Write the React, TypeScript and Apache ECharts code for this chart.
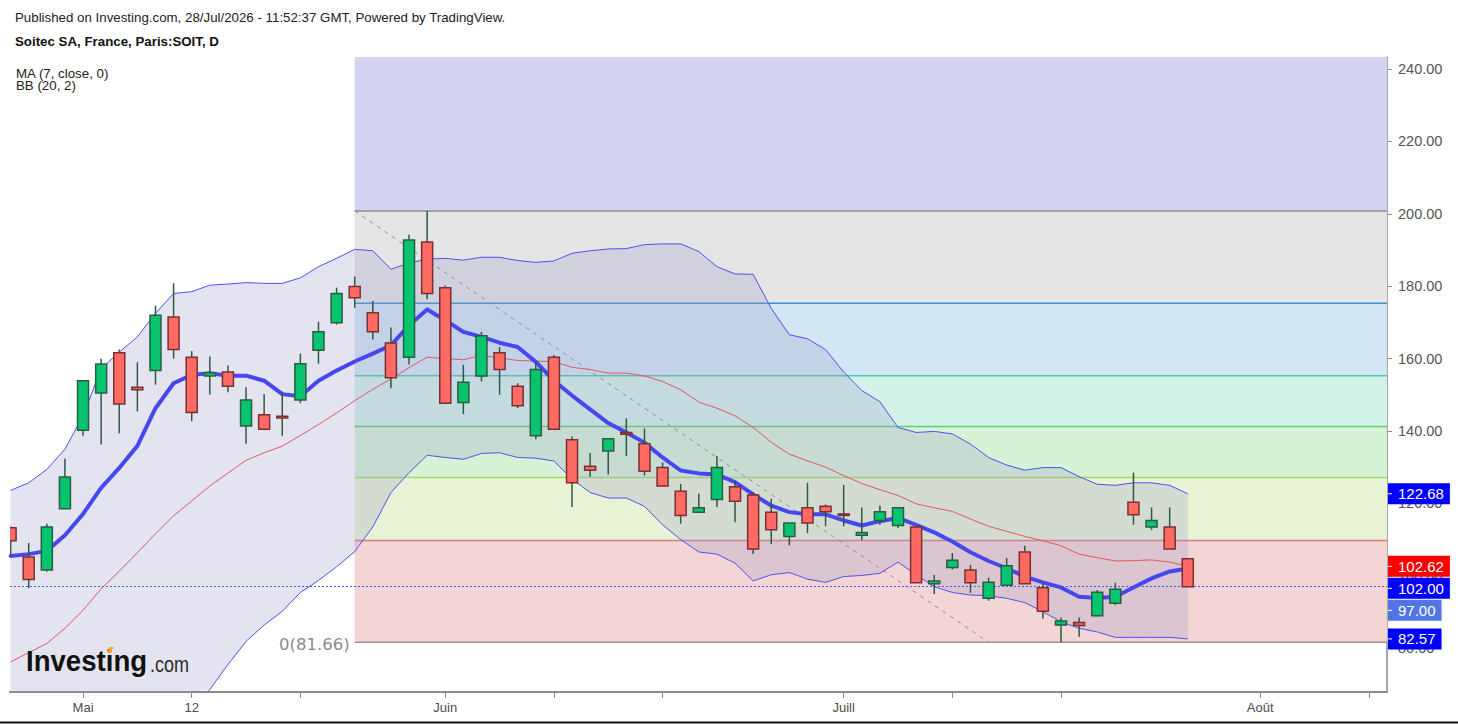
import React, { useEffect, useRef } from "react";
import * as echarts from "echarts";

// ---------------- data ----------------
const tradingDays = [
  "2026-04-27", "2026-04-28", "2026-04-29", "2026-04-30",
  "2026-05-04", "2026-05-05", "2026-05-06", "2026-05-07", "2026-05-08",
  "2026-05-11", "2026-05-12", "2026-05-13", "2026-05-14", "2026-05-15",
  "2026-05-18", "2026-05-19", "2026-05-20", "2026-05-21", "2026-05-22",
  "2026-05-25", "2026-05-26", "2026-05-27", "2026-05-28", "2026-05-29",
  "2026-06-01", "2026-06-02", "2026-06-03", "2026-06-04", "2026-06-05",
  "2026-06-08", "2026-06-09", "2026-06-10", "2026-06-11", "2026-06-12",
  "2026-06-15", "2026-06-16", "2026-06-17", "2026-06-18", "2026-06-19",
  "2026-06-22", "2026-06-23", "2026-06-24", "2026-06-25", "2026-06-26",
  "2026-06-29", "2026-06-30",
  "2026-07-01", "2026-07-02", "2026-07-03",
  "2026-07-06", "2026-07-07", "2026-07-08", "2026-07-09", "2026-07-10",
  "2026-07-13", "2026-07-14", "2026-07-15", "2026-07-16", "2026-07-17",
  "2026-07-20", "2026-07-21", "2026-07-22", "2026-07-23", "2026-07-24",
  "2026-07-27", "2026-07-28", "2026-07-29", "2026-07-30", "2026-07-31",
  "2026-08-03", "2026-08-04", "2026-08-05", "2026-08-06", "2026-08-07",
  "2026-08-10", "2026-08-11", "2026-08-12",
];

const candleOpen = [
  113.3, 105.2, 101.6, 118.5, 140.2, 150.5, 161.6, 152.1, 156.7, 171.5,
  160.4, 155.2, 156.3, 141.4, 144.5, 144.1, 148.6, 162.3, 169.9, 179.9,
  172.7, 164.3, 160.4, 192.2, 179.6, 147.9, 155.2, 161.6, 152.4, 138.7,
  160.4, 137.6, 130.3, 134.5, 139.6, 136.5, 129.9, 123.4, 117.6, 121.1,
  124.6, 122.3, 117.6, 110.9, 118.8, 119.2, 117.1, 111.2, 115.3, 113.9,
  113.5, 97.8, 102.3, 101.6, 93.8, 97.4, 106.6, 96.7, 86.4, 87.1,
  89.0, 92.4, 120.3, 113.5, 113.5, 104.7,
];
const candleHigh = [
  113.6, 109.1, 114.4, 132.4, 154.1, 160.0, 162.5, 159.0, 174.6, 180.8,
  162.1, 160.6, 158.1, 152.1, 150.2, 150.9, 161.4, 170.2, 179.6, 182.7,
  175.9, 168.6, 194.2, 200.8, 180.2, 158.3, 167.4, 163.2, 153.2, 159.2,
  161.0, 138.5, 133.9, 137.9, 143.5, 140.7, 131.3, 125.4, 122.7, 133.1,
  126.2, 123.1, 121.3, 114.6, 125.7, 119.7, 125.1, 118.9, 119.4, 119.0,
  113.5, 100.2, 106.3, 103.0, 99.5, 104.9, 108.3, 98.1, 88.5, 88.5,
  96.1, 98.1, 128.5, 118.9, 118.9, 105.0,
];
const candleLow = [
  105.3, 96.6, 101.1, 118.5, 138.7, 136.3, 139.4, 145.4, 152.8, 160.0,
  142.7, 150.0, 150.7, 136.5, 140.2, 138.7, 147.7, 158.6, 169.4, 174.0,
  165.3, 151.8, 158.4, 176.4, 147.7, 144.7, 153.7, 150.0, 146.3, 137.7,
  140.5, 119.0, 127.4, 128.0, 133.1, 127.7, 124.8, 114.4, 117.6, 119.0,
  114.8, 106.0, 108.8, 108.4, 111.8, 113.7, 113.7, 110.0, 114.1, 113.2,
  98.1, 95.0, 101.8, 95.3, 93.1, 97.4, 97.8, 88.2, 81.66, 83.2,
  88.8, 91.9, 114.1, 112.7, 107.4, 97.0,
];
const candleClose = [
  109.7, 99.0, 113.5, 127.3, 153.9, 158.5, 147.5, 151.4, 172.0, 162.5,
  145.1, 156.1, 152.4, 148.6, 140.5, 143.6, 158.6, 167.4, 178.0, 176.8,
  167.4, 154.7, 192.8, 178.0, 147.7, 153.5, 166.3, 157.0, 147.0, 157.0,
  140.5, 125.7, 129.2, 137.9, 139.1, 128.9, 124.8, 116.7, 118.8, 129.9,
  120.6, 107.4, 112.7, 114.6, 114.6, 117.7, 116.7, 112.0, 117.7, 118.8,
  98.1, 98.6, 104.3, 98.1, 98.2, 102.8, 97.8, 90.2, 87.5, 86.3,
  95.5, 96.3, 116.9, 115.3, 107.4, 97.0,
];

const ma7 = [
  105.5, 106.0, 106.9, 111.2, 117.1, 124.3, 129.8, 135.9, 146.3, 153.2,
  155.5, 156.0, 155.3, 155.3, 153.9, 150.2, 149.6, 153.9, 156.7, 159.2,
  161.4, 163.7, 169.2, 173.6, 170.6, 167.4, 166.0, 164.4, 163.2, 159.1,
  153.9, 149.8, 146.0, 142.2, 139.6, 136.8, 132.7, 129.1, 128.3, 128.0,
  125.9, 122.5, 119.4, 117.6, 117.0, 117.0, 115.3, 113.9, 115.1, 116.0,
  114.1, 112.0, 109.5, 106.5, 104.1, 102.1, 99.8, 98.2, 96.8, 94.2,
  93.9, 94.2, 96.8, 99.3, 101.2, 102.0,
];
const bbUpper = [
  123.6, 125.7, 129.4, 135.0, 144.2, 157.2, 161.8, 166.0, 172.5, 178.0,
  178.5, 180.3, 180.6, 181.0, 180.8, 180.8, 182.3, 185.4, 187.7, 190.2,
  189.8, 184.7, 186.4, 187.5, 187.7, 187.2, 188.0, 188.0, 187.1, 186.6,
  187.0, 189.1, 189.8, 190.3, 190.4, 191.5, 191.7, 191.7, 189.6, 185.4,
  183.4, 183.3, 173.9, 166.6, 165.5, 162.5, 156.3, 151.2, 148.1, 141.0,
  139.6, 139.9, 139.2, 136.4, 132.7, 130.6, 129.2, 129.9, 129.9, 127.4,
  125.3, 125.0, 125.7, 125.7, 125.0, 122.68,
];
const bbMiddle = [
  76.2, 78.8, 81.3, 85.5, 90.5, 96.4, 101.3, 106.4, 111.6, 116.6,
  120.7, 124.8, 128.4, 131.9, 134.0, 135.8, 138.8, 141.8, 145.0, 148.4,
  151.5, 154.4, 157.5, 160.4, 160.0, 159.7, 160.9, 160.2, 159.5, 159.3,
  159.2, 157.6, 157.0, 156.0, 156.0, 155.2, 153.7, 151.4, 148.0, 146.3,
  144.2, 141.0, 136.9, 133.6, 131.8, 130.0, 127.7, 125.5, 123.8, 122.2,
  119.9, 118.8, 117.8, 115.7, 113.7, 112.3, 110.9, 109.7, 108.3, 106.0,
  105.0, 104.1, 104.2, 104.4, 103.8, 102.62,
];
const bbLower = [
  28.8, 31.9, 33.2, 36.0, 36.8, 35.6, 40.8, 46.8, 50.7, 55.2,
  62.9, 68.6, 75.5, 81.9, 86.4, 90.2, 95.4, 98.7, 102.5, 106.7,
  113.5, 123.0, 128.5, 133.3, 132.7, 132.2, 133.8, 134.0, 132.7, 132.5,
  131.7, 126.8, 123.0, 121.5, 121.5, 119.2, 114.1, 110.0, 106.6, 106.0,
  103.5, 98.6, 100.3, 100.9, 99.1, 98.2, 99.8, 100.1, 100.7, 103.8,
  100.3, 97.0, 95.4, 94.7, 94.5, 93.8, 92.6, 90.1, 87.3, 85.5,
  84.5, 83.0, 83.0, 83.0, 83.0, 82.57,
];

const xTickDays = [
  "2026-05-04", "2026-05-12", "2026-05-20", "2026-06-01", "2026-06-09", "2026-06-17",
  "2026-07-01", "2026-07-09", "2026-07-17", "2026-08-03", "2026-08-11",
];
const xTickLabels = ["Mai", "12", "", "Juin", "", "", "Juill", "", "", "Août", ""];
const yTickValues = [80, 100, 120, 140, 160, 180, 200, 220, 240];

const fibRatios = [0, 0.236, 0.382, 0.5, 0.618, 0.786, 1, 1.618];
const fibLowPrice = 81.66;
const fibHighPrice = 200.8;
const fibStartDay = "2026-05-25";
const fibEndDay = "2026-07-13";

const headerPublished = "Published on Investing.com, 28/Jul/2026 - 11:52:37 GMT, Powered by TradingView.";
const headerSymbol = "Soitec SA, France, Paris:SOIT, D";
const legendMA = "MA (7, close, 0)";
const legendBB = "BB (20, 2)";

// ---------------- styles ----------------
const FONT = '"Liberation Sans", Arial, Helvetica, sans-serif';
const xMin = -0.033;
const xMax = 76.0;
const yMin = 67.91;
const yMax = 243.33;
const fibFill = ["#f3d5d5", "#e9f4d6", "#d6f3d6", "#d3f3ea", "#d3e6f4", "#e5e5e5", "#d4d4f2"];
const fibLine = ["#a89090", "#e07a7a", "#a6d56e", "#62cf72", "#4fc7ad", "#3b93d0", "#8c8c8c", "#7c7cd8"];
const upFill = "#07c46f";
const upBorder = "#2b5d43";
const downFill = "#ff6a62";
const downBorder = "#7a3030";
const wickColor = "#2d5a44";
const maColor = "#4747f0";
const bbBandColor = "#5050f2";
const bbMidColor = "#e0585e";
const bbFillColor = "rgba(155,155,199,0.27)";

export default function App() {
  const ref = useRef<HTMLDivElement>(null);

  useEffect(() => {
    const el = ref.current as HTMLDivElement;
    const chart = echarts.init(el, null, { renderer: "svg" });

    const n = candleOpen.length;
    const idx = candleOpen.map((_, i) => i);
    const fibLevels = fibRatios.map((r) => fibLowPrice + r * (fibHighPrice - fibLowPrice));
    const fibStartIdx = tradingDays.indexOf(fibStartDay);
    const fibEndIdx = tradingDays.indexOf(fibEndDay);
    const xTickIdx = xTickDays.map((d) => tradingDays.indexOf(d));
    const xLabelIdx = xTickIdx.filter((_, i) => xTickLabels[i] !== "");

    const option: any = {
      animation: false,
      backgroundColor: "#ffffff",
      grid: { left: 10, right: 71, top: 57, bottom: 32, containLabel: false },
      xAxis: {
        type: "value",
        min: xMin,
        max: xMax,
        axisLine: { show: true, onZero: false, lineStyle: { color: "#8a8a8a", width: 2 } },
        axisTick: { show: true, customValues: xTickIdx, length: 6, lineStyle: { color: "#8a8a8a", width: 1 } },
        axisLabel: {
          customValues: xLabelIdx,
          formatter: (v: number) => {
            const k = xTickIdx.indexOf(Math.round(v));
            return k >= 0 ? xTickLabels[k] : "";
          },
          color: "#4d4d4d",
          fontSize: 13,
          fontFamily: FONT,
          margin: 9,
        },
        splitLine: { show: false },
      },
      yAxis: {
        type: "value",
        position: "right",
        min: yMin,
        max: yMax,
        axisLine: { show: true, onZero: false, lineStyle: { color: "#8a8a8a", width: 1.5 } },
        axisTick: { show: true, customValues: yTickValues, length: 5, lineStyle: { color: "#8a8a8a" } },
        axisLabel: {
          customValues: yTickValues,
          formatter: (v: number) => v.toFixed(2),
          color: "#555555",
          fontSize: 14.5,
          fontFamily: FONT,
          margin: 11,
        },
        splitLine: { show: false },
      },
      series: [
        {
          type: "custom",
          name: "fib",
          z: 1,
          silent: true,
          clip: true,
          data: fibLevels.map((lv) => [fibStartIdx, lv]),
          encode: { x: 0, y: 1 },
          renderItem: (params: any, api: any) => {
            const i = params.dataIndex;
            const cs = params.coordSys;
            const top = cs.y;
            const bottom = cs.y + cs.height;
            const right = cs.x + cs.width;
            const clampY = (y: number) => Math.max(top, Math.min(bottom, y));
            const p0 = api.coord([fibStartIdx, fibLevels[i]]);
            const children: any[] = [];
            if (i < fibLevels.length - 1) {
              const p1 = api.coord([fibStartIdx, fibLevels[i + 1]]);
              const y0 = clampY(p0[1]);
              const y1 = clampY(p1[1]);
              if (y0 - y1 > 0) {
                children.push({
                  type: "rect",
                  shape: { x: p0[0], y: y1, width: right - p0[0], height: y0 - y1 },
                  style: { fill: fibFill[i] },
                });
              }
            }
            if (p0[1] >= top && p0[1] <= bottom) {
              children.push({
                type: "line",
                shape: { x1: p0[0], y1: p0[1], x2: right, y2: p0[1] },
                style: { stroke: fibLine[i], lineWidth: 1.5 },
              });
            }
            if (i === 0) {
              children.push({
                type: "text",
                x: p0[0] - 5,
                y: p0[1] + 2,
                style: {
                  text: `${fibRatios[0]}(${fibLowPrice.toFixed(2)})`,
                  fill: "#8c8c8c",
                  font: '16.5px "DejaVu Sans", sans-serif',
                  align: "right",
                  verticalAlign: "middle",
                },
              });
            }
            return { type: "group", children };
          },
        },
        {
          type: "custom",
          name: "bbFill",
          z: 2,
          silent: true,
          clip: true,
          data: [[0, bbUpper[0]]],
          encode: { x: 0, y: 1 },
          renderItem: (params: any, api: any) => {
            const cs = params.coordSys;
            const pts: number[][] = [];
            for (let i = 0; i < n; i++) pts.push(api.coord([idx[i], bbUpper[i]]));
            for (let i = n - 1; i >= 0; i--) pts.push(api.coord([idx[i], bbLower[i]]));
            const clipped = pts.map((p) => [p[0], Math.max(cs.y, Math.min(cs.y + cs.height, p[1]))]);
            return { type: "polygon", shape: { points: clipped }, style: { fill: bbFillColor } };
          },
        },
        {
          type: "line",
          name: "BB upper",
          z: 3,
          silent: true,
          symbol: "none",
          data: idx.map((i) => [i, bbUpper[i]]),
          lineStyle: { color: bbBandColor, width: 1 },
        },
        {
          type: "line",
          name: "BB lower",
          z: 3,
          silent: true,
          symbol: "none",
          data: idx.map((i) => [i, bbLower[i]]),
          lineStyle: { color: bbBandColor, width: 1 },
        },
        {
          type: "line",
          name: "BB middle",
          z: 3,
          silent: true,
          symbol: "none",
          data: idx.map((i) => [i, bbMiddle[i]]),
          lineStyle: { color: bbMidColor, width: 1 },
        },
        {
          type: "line",
          name: "fib trend",
          z: 3,
          silent: true,
          symbol: "none",
          data: [
            [fibStartIdx, fibHighPrice],
            [fibEndIdx, fibLowPrice],
          ],
          lineStyle: { color: "#8e8e8e", width: 1, type: [4, 5] },
        },
        {
          type: "line",
          name: "MA 7",
          z: 4,
          silent: true,
          symbol: "none",
          data: idx.map((i) => [i, ma7[i]]),
          lineStyle: { color: maColor, width: 4, cap: "round", join: "round" },
          markLine: {
            silent: true,
            symbol: ["none", "none"],
            label: { show: false },
            lineStyle: { color: "#3d5ce6", width: 1, type: [2, 2] },
            data: [{ yAxis: candleClose[n - 1] }],
          },
        },
        {
          type: "custom",
          name: "Soitec",
          z: 5,
          silent: true,
          clip: true,
          data: idx.map((i) => [i, candleOpen[i], candleClose[i], candleLow[i], candleHigh[i]]),
          encode: { x: 0, y: [1, 2, 3, 4] },
          renderItem: (params: any, api: any) => {
            const x = api.value(0);
            const o = api.value(1);
            const c = api.value(2);
            const l = api.value(3);
            const h = api.value(4);
            const pO = api.coord([x, o]);
            const pC = api.coord([x, c]);
            const pL = api.coord([x, l]);
            const pH = api.coord([x, h]);
            const cx = pO[0];
            const up = c >= o;
            const top = Math.min(pO[1], pC[1]);
            const bot = Math.max(pO[1], pC[1]);
            const w = 11;
            return {
              type: "group",
              children: [
                {
                  type: "line",
                  shape: { x1: cx, y1: pH[1], x2: cx, y2: pL[1] },
                  style: { stroke: wickColor, lineWidth: 1.5 },
                },
                {
                  type: "rect",
                  shape: { x: cx - w / 2, y: top, width: w, height: Math.max(bot - top, 1.5) },
                  style: {
                    fill: up ? upFill : downFill,
                    stroke: up ? upBorder : downBorder,
                    lineWidth: 1.5,
                  },
                },
              ],
            };
          },
        },
      ],
    };

    chart.setOption(option);

    // price markers on the right scale, stacked so they do not overlap
    const markers = [
      { value: bbUpper[n - 1], color: "#0000ff" },
      { value: bbMiddle[n - 1], color: "#ff0000" },
      { value: ma7[n - 1], color: "#0000ff" },
      { value: candleClose[n - 1], color: "#5175e4" },
      { value: bbLower[n - 1], color: "#0000ff" },
    ].map((m) => ({ ...m, y: chart.convertToPixel({ yAxisIndex: 0 }, m.value) as number }));
    markers.sort((a, b) => a.y - b.y);
    for (let i = 1; i < markers.length; i++) {
      if (markers[i].y < markers[i - 1].y + 22) markers[i].y = markers[i - 1].y + 22;
    }
    const axisX = 1458 - 71;
    const markerGraphics: any[] = [];
    markers.forEach((m) => {
      markerGraphics.push({
        type: "text",
        x: axisX + 1,
        y: m.y,
        z: 100,
        style: {
          text: m.value.toFixed(2),
          fill: "#ffffff",
          font: `15px ${FONT}`,
          backgroundColor: m.color,
          padding: [3, 6, 3, 10],
          align: "left",
          verticalAlign: "middle",
        },
      });
      markerGraphics.push({
        type: "line",
        z: 101,
        shape: { x1: axisX + 1, y1: m.y, x2: axisX + 5, y2: m.y },
        style: { stroke: "#ffffff", lineWidth: 1 },
      });
    });

    const staticGraphics: any[] = [
      {
        type: "text",
        x: 15,
        y: 17,
        style: { text: headerPublished, font: `13.3px ${FONT}`, fill: "#222222", verticalAlign: "middle" },
      },
      {
        type: "text",
        x: 15,
        y: 41,
        style: { text: headerSymbol, font: `bold 13.3px ${FONT}`, fill: "#111111", verticalAlign: "middle" },
      },
      {
        type: "text",
        x: 16,
        y: 73,
        style: { text: legendMA, font: `13.3px ${FONT}`, fill: "#222222", verticalAlign: "middle" },
      },
      {
        type: "text",
        x: 16,
        y: 85,
        style: { text: legendBB, font: `13.3px ${FONT}`, fill: "#222222", verticalAlign: "middle" },
      },
      {
        type: "text",
        x: 26,
        y: 661,
        z: 50,
        scaleX: 0.92,
        style: {
          text: "Investing",
          font: `bold 30px ${FONT}`,
          fill: "#111111",
          verticalAlign: "middle",
        },
      },
      {
        type: "text",
        x: 150,
        y: 664,
        z: 50,
        scaleX: 0.82,
        style: {
          text: ".com",
          font: `22px ${FONT}`,
          fill: "#2a2a2a",
          verticalAlign: "middle",
        },
      },
      {
        type: "polygon",
        z: 51,
        shape: { points: [[107, 653], [109.5, 647], [113.5, 647], [111, 653]] },
        style: { fill: "#f5a623" },
      },
      {
        type: "line",
        shape: { x1: 0, y1: 722.5, x2: 1458, y2: 722.5 },
        style: { stroke: "#111111", lineWidth: 2 },
      },
    ];

    chart.setOption({ graphic: [...staticGraphics, ...markerGraphics] });

    return () => {
      chart.dispose();
    };
  }, []);

  return (
    <div
      ref={ref}
      style={{ position: "absolute", left: 0, top: 0, width: 1458, height: 724, background: "#ffffff" }}
    />
  );
}
